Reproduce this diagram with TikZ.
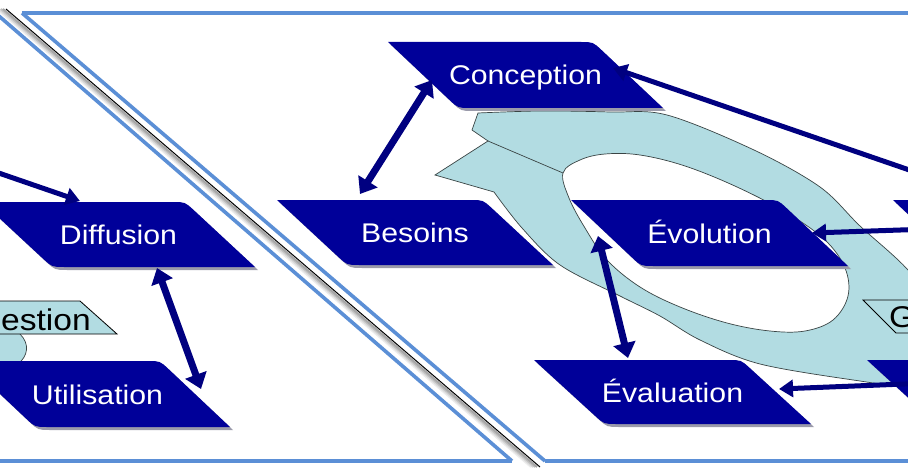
\documentclass[tikz,border=0pt]{standalone}
\usepackage{fontspec}
\setmainfont{Liberation Sans}
\usepackage{graphicx}
\usetikzlibrary{arrows.meta,calc}
\definecolor{navyb}{HTML}{000099}
\definecolor{arrowc}{HTML}{000080}
\definecolor{ringc}{HTML}{B2DCE2}
\definecolor{framec}{HTML}{5B8FD6}
\definecolor{shadowc}{HTML}{9A9AAA}
\definecolor{ringline}{HTML}{3A4444}
\tikzset{
  boxtext/.style={text=white, font=\fontsize{27}{27}\selectfont, inner sep=0pt, anchor=base, yshift=-10pt},
  gtext/.style={text=black, font=\fontsize{30}{30}\selectfont, inner sep=0pt},
  framel/.style={draw=framec, line width=3.6pt},
  dblarrow/.style={draw=arrowc, line width=7pt, {Triangle[width=22pt,length=15pt]}-{Triangle[width=22pt,length=15pt]}},
  onearrow/.style={draw=arrowc, line width=5pt, -{Triangle[width=17pt,length=14pt]}},
  twoarrow/.style={draw=arrowc, line width=5pt, {Triangle[width=17pt,length=14pt]}-{Triangle[width=17pt,length=14pt]}},
  glabel/.style={fill=ringc, draw=black, line width=0.8pt},
}
\newcommand{\pgfillbox}[2]{%
  \fill[#2] (#1tl) -- ($(#1tr)!12pt!(#1tl)$) .. controls (#1tr) .. ($(#1tr)!12pt!(#1br)$) -- (#1br)
    -- ($(#1bl)!12pt!(#1br)$) .. controls (#1bl) .. ($(#1bl)!12pt!(#1tl)$) -- cycle;}
\newcommand{\pgbox}[6]{%
  \coordinate (#1tl) at (#2,#3);
  \coordinate (#1tr) at (#2+#4,#3);
  \coordinate (#1br) at (#2+#4+70,#3+#5);
  \coordinate (#1bl) at (#2+70,#3+#5);
  \begin{scope}[transform canvas={xshift=3pt,yshift=-3pt}]
    \pgfillbox{#1}{shadowc}
  \end{scope}
  \pgfillbox{#1}{navyb}
  \node[boxtext] (#1) at ($(#1tl)!0.5!(#1br)$) {\scalebox{1.12}[1]{#6}};}
\begin{document}
\begin{tikzpicture}[x=1pt,y=-1pt]
\useasboundingbox (0,0) rectangle (908,468);
\fill[white] (0,0) rectangle (908,468);
\clip (0,0) rectangle (908,468);

% frames
\draw[framel] (22,13) -- (915,13);
\draw[framel] (-5,461) -- (512,461);
\draw[framel] (545,461) -- (915,461);
\draw[framel] (22,13) -- (545,461);
\draw[framel] (-8,10) -- (512,461);
% fold band
\draw[gray!15, line width=2pt] (-3,9) -- (531,467);
\draw[gray!30, line width=2pt] (-1,9) -- (533,467);
\draw[gray!50, line width=2pt] (1,9) -- (535,467);
\draw[gray!70, line width=2pt] (3,9) -- (537,467);
\draw[black, line width=1pt] (6,9) -- (540,467);

% ring (right panel)
\filldraw[fill=ringc, draw=ringline, line width=0.7pt, even odd rule]
  plot[smooth, tension=0.55] coordinates {(478,113) (540,111) (610,112) (667,115) (754,150) (820,187) (860,226) (908,270) (945,320) (935,372) (895,384) (860,381) (760,364) (700,340) (660,316) (620,296) (560,265) (522,228) (494,192)}
  -- (435,175) -- (488,141) -- (472,130) -- cycle
  plot[smooth cycle, tension=0.6] coordinates {(563,173) (580,160) (605,154) (640,155) (685,166) (737,187) (787,213) (825,240) (845,268) (848,296) (833,320) (805,331) (770,331) (727,323) (680,307) (640,287) (607,260) (585,228) (569,198)};
\draw[ringline, line width=0.7pt] (488,141) -- (563,173);

% ring piece (left panel)
\fill[ringc] (-5,330) -- (20,334) .. controls (30,344) and (28,356) .. (18,364) -- (-5,364) -- cycle;
\draw[ringline, line width=0.7pt] (20,334) .. controls (30,344) and (28,356) .. (18,364);

% labels
\filldraw[glabel] (-60,301) -- (80,301) -- (117,334) -- (-30,334) -- cycle;
\node[gtext, anchor=base east] (gl) at (91,330) {\scalebox{1.12}[1]{Gestion}};
\filldraw[glabel] (863,300) -- (990,300) -- (1020,333) -- (896,333) -- cycle;
\node[gtext, anchor=base west] (gr) at (889,327) {\scalebox{1.12}[1]{Gestion}};

% boxes
\pgbox{conc}{388}{42}{205}{66}{Conception}
\pgbox{bes}{277}{200}{206}{65}{Besoins}
\pgbox{evo}{571}{200}{207}{66}{Évolution}
\pgbox{eva}{534}{360}{207}{64}{Évaluation}
\pgbox{dif}{-18}{202}{203}{65}{Diffusion}
\pgbox{uti}{-35}{361}{195}{66}{Utilisation}
\pgbox{rtop}{893}{200}{205}{66}{}
\pgbox{rbot}{867}{360}{205}{64}{}

% connectors
\coordinate (c1) at (432,80); \coordinate (b1) at (360,194);
\draw[dblarrow] (b1) -- (c1);
\coordinate (ev1) at (598,236); \coordinate (ea1) at (628,358);
\draw[dblarrow] (ea1) -- (ev1);
\coordinate (df1) at (157,268); \coordinate (ut1) at (201,389);
\draw[dblarrow] (df1) -- (ut1);
\coordinate (in0) at (-10,170); \coordinate (df0) at (80,201);
\draw[onearrow] (in0) -- (df0);
\coordinate (cr0) at (950,184); \coordinate (cr1) at (613,68);
\draw[onearrow] (cr0) -- (cr1);
\coordinate (er0) at (930,229); \coordinate (er1) at (812,233);
\draw[twoarrow] (er1) -- (er0);
\coordinate (bq0) at (930,383); \coordinate (bq1) at (779,389);
\draw[onearrow] (bq0) -- (bq1);
\end{tikzpicture}
\end{document}
